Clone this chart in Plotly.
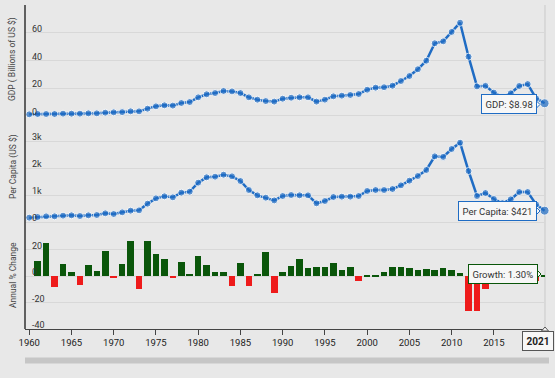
import plotly.graph_objects as go

years = list(range(1960, 2022))

gdp_billions = [0.99, 1.23, 1.23, 1.23, 1.47, 1.47, 1.47, 1.71, 1.71, 2.19,
                2.44, 2.6, 3.16, 3.16, 5.09, 6.78, 7.5, 7.3, 9.19, 9.9,
                13.3, 15.5, 16.4, 17.9, 17.6, 16.4, 13.3, 11.6, 10.6, 10.2,
                12.3, 13.0, 13.3, 13.3, 10.2, 11.6, 14.0, 14.5, 15.0, 15.7,
                18.8, 20.3, 20.6, 21.7, 25.1, 28.7, 33.6, 39.8, 52.4, 53.8,
                60.6, 67.3, 42.7, 21.2, 21.6, 16.7, 13.3, 16.2, 21.5, 22.9,
                12.5, 8.98]

per_capita = [161, 185, 210, 210, 235, 247, 222, 247, 259, 321,
              296, 358, 420, 432, 679, 877, 951, 914, 1087, 1124,
              1457, 1655, 1679, 1753, 1692, 1519, 1185, 988, 901, 800,
              963, 1000, 988, 988, 692, 778, 926, 939, 939, 963,
              1149, 1185, 1185, 1223, 1358, 1531, 1704, 1926, 2432, 2412,
              2704, 2939, 1889, 963, 1074, 852, 700, 840, 1111, 1111,
              650, 421]

growth_pct = [0, 11.2, 25.0, -8.0, 9.5, 3.0, -7.0, 8.5, 4.2, 19.2,
              -1.2, 9.5, 26.5, -9.5, 26.5, 16.8, 12.8, -1.5, 10.5, 1.8,
              15.0, 8.2, 3.5, 3.0, -7.2, 10.0, -7.2, 2.0, 18.5, -13.0,
              3.5, 7.8, 13.0, 6.2, 7.2, 7.2, 10.0, 5.0, 6.8, -3.8,
              0.5, 0.4, 3.5, 7.2, 6.8, 6.2, 5.0, 5.5, 5.0, 6.0,
              5.0, 2.8, -26.0, -26.0, -10.0, 4.9, 4.7, 0.8, -2.3, -2.5,
              -3.6, 1.30]

x_ticks = list(range(1960, 2016, 5))

BLUE = "#1f6cc4"
GREEN = "#0a560a"
RED = "#ee1b1b"
BG = "#e8e8e8"
GRID = "#d8d8d8"
FONT = "Roboto"

W, H = 555, 378
L, R, T, B = 25, 10, 5, 49
PW, PH = W - L - R, H - T - B


def px_x(p):
    return (p - L) / PW


def px_y(p):
    return 1 - (p - T) / PH


fig = go.Figure()

sizes = [7] * (len(years) - 1) + [9]

fig.add_trace(go.Scatter(
    x=years, y=gdp_billions, mode="lines+markers", xaxis="x", yaxis="y",
    line=dict(color=BLUE, width=2.5), marker=dict(color=BLUE, size=sizes),
    showlegend=False, hoverinfo="skip", cliponaxis=False))

fig.add_trace(go.Scatter(
    x=years, y=per_capita, mode="lines+markers", xaxis="x", yaxis="y2",
    line=dict(color=BLUE, width=2.5), marker=dict(color=BLUE, size=sizes),
    showlegend=False, hoverinfo="skip", cliponaxis=False))

bar_colors = [GREEN if v >= 0 else RED for v in growth_pct]
fig.add_trace(go.Bar(
    x=years[1:], y=growth_pct[1:], xaxis="x", yaxis="y3",
    marker=dict(color=bar_colors[1:], line=dict(width=0)), width=0.78,
    showlegend=False, hoverinfo="skip"))

yax_common = dict(
    showgrid=True, gridcolor=GRID, gridwidth=1, zeroline=False,
    showline=False, ticks="", ticklabelposition="inside",
    ticklabelstandoff=4, ticklabelshift=-4, ticklabeloverflow="allow",
    tickfont=dict(family=FONT, size=9, color="#333333"),
    fixedrange=True,
)

fig.update_layout(
    width=W, height=H,
    margin=dict(l=L, r=R, t=T, b=B),
    paper_bgcolor=BG, plot_bgcolor=BG,
    bargap=0,
    xaxis=dict(
        range=[1959.5, 2021.05], anchor="y3", domain=[0, 1],
        tickvals=x_ticks, ticktext=[str(v) for v in x_ticks],
        ticks="outside", ticklen=5, tickwidth=1, tickcolor="#444444",
        showgrid=False, zeroline=False, ticklabeloverflow="allow",
        showline=True, linecolor="#444444", linewidth=1,
        tickfont=dict(family=FONT, size=9.5, color="#222222"),
        fixedrange=True,
    ),
    yaxis=dict(domain=[px_y(122.5), px_y(5)], range=[-4.92, 80.1],
               tickvals=[0, 20, 40, 60], ticktext=["0", "20", "40", "60"],
               anchor="x", **yax_common),
    yaxis2=dict(domain=[px_y(228), px_y(125)], range=[-222, 3593],
                tickvals=[0, 1000, 2000, 3000], ticktext=["0", "1k", "2k", "3k"],
                anchor="x", **yax_common),
    yaxis3=dict(domain=[0, px_y(232)], range=[-40, 33.5],
                tickvals=[-40, -20, 0, 20], ticktext=["-40", "-20", "0", "20"],
                anchor="x", **yax_common),
)

shapes = []
# left axis line
shapes.append(dict(type="line", xref="paper", yref="paper",
                   x0=0, x1=0, y0=0, y1=1,
                   line=dict(color="#333333", width=1.5)))
# crosshair at 2021
shapes.append(dict(type="line", xref="paper", yref="paper",
                   x0=px_x(545), x1=px_x(545), y0=px_y(327), y1=1,
                   line=dict(color="#c9c9c9", width=1), layer="below"))
# scrollbar
shapes.append(dict(type="rect", xref="paper", yref="paper",
                   x0=px_x(25), x1=px_x(549), y0=px_y(363.5), y1=px_y(357.5),
                   line=dict(width=0), fillcolor="#c6c6c6", layer="below"))


def pointer_right(xr, cy, color):
    return dict(type="path", xref="paper", yref="paper",
                path=f"M {px_x(xr)} {px_y(cy - 4)} L {px_x(xr + 4)} {px_y(cy)} L {px_x(xr)} {px_y(cy + 4)} Z",
                fillcolor="#f7f7f7", line=dict(color=color, width=1))


shapes.append(pointer_right(536, 104.5, BLUE))
shapes.append(pointer_right(536, 211, BLUE))
shapes.append(pointer_right(537, 274, GREEN))
shapes.append(dict(type="path", xref="paper", yref="paper",
                   path=f"M {px_x(541.5)} {px_y(331)} L {px_x(545)} {px_y(327)} L {px_x(548.5)} {px_y(331)} Z",
                   fillcolor="#f7f7f7", line=dict(color="#555555", width=1)))
fig.update_layout(shapes=shapes)

ann = []
title_font = dict(family=FONT, size=8.5, color="#444444")
ann.append(dict(text="GDP ( Billions of US $)", xref="paper", yref="paper",
                x=px_x(13), y=px_y(59), textangle=-90, showarrow=False,
                font=title_font, xanchor="center", yanchor="middle"))
ann.append(dict(text="Per Capita (US $)", xref="paper", yref="paper",
                x=px_x(13), y=px_y(167), textangle=-90, showarrow=False,
                font=title_font, xanchor="center", yanchor="middle"))
ann.append(dict(text="Annual % Change", xref="paper", yref="paper",
                x=px_x(13), y=px_y(275), textangle=-90, showarrow=False,
                font=title_font, xanchor="center", yanchor="middle"))

tip_font = dict(family=FONT, size=9.5, color="#333333")


def tip(text, x_right, cy, color, font=tip_font):
    return dict(text=text, xref="paper", yref="paper", x=px_x(x_right), y=px_y(cy),
                showarrow=False, font=font, bgcolor="#f7f7f7",
                bordercolor=color, borderwidth=1, borderpad=3.5,
                xanchor="right", yanchor="middle")


ann.append(tip(f"GDP: ${gdp_billions[-1]:.2f}", 536.5, 104.5, BLUE))
ann.append(tip(f"Per Capita: ${per_capita[-1]}", 536.5, 211, BLUE))
ann.append(tip(f"Growth: {growth_pct[-1]:.2f}%", 537.5, 274, GREEN))
ann.append(tip(f"<b>{years[-1]}</b>", 554, 340.5, "#555555",
               font=dict(family=FONT, size=10, color="#222222")))
fig.update_layout(annotations=ann)

fig.write_html(
    "out.html",
    config={"displayModeBar": False},
    post_script="document.body.style.margin='0';document.body.style.overflow='hidden';",
)
